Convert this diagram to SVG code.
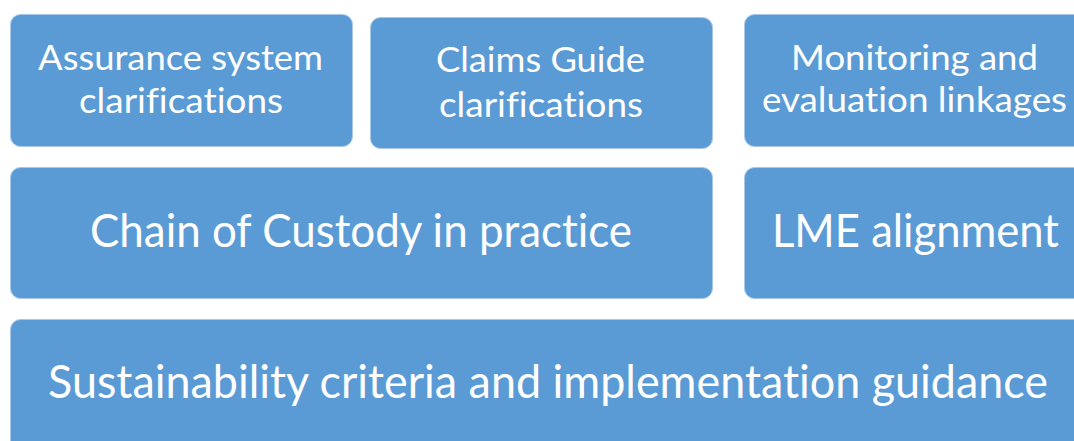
<svg xmlns="http://www.w3.org/2000/svg" width="1074" height="441" viewBox="0 0 1074 441">
<style>
.box{fill:#5B9BD5;stroke:#A9C8E8;stroke-width:1}
.t{fill:#FFFFFF;font-family:Lato,"Open Sans","Liberation Sans",sans-serif;text-anchor:middle;font-variant-ligatures:none;font-feature-settings:"liga" 0}
.s{font-size:34px}
.l{font-size:46px}
</style>
<rect width="1074" height="441" fill="#FFFFFF"/>
<g id="assurance">
<rect class="box" x="10.5" y="14.5" width="342" height="132" rx="10"/>
<text class="t s" x="180.5" y="70" textLength="285" lengthAdjust="spacingAndGlyphs">Assurance system</text>
<text class="t s" x="181" y="113" textLength="204" lengthAdjust="spacingAndGlyphs">clarifications</text>
</g>
<g id="claims">
<rect class="box" x="370.5" y="17.5" width="342" height="131" rx="10"/>
<text class="t s" x="540.5" y="72" textLength="209" lengthAdjust="spacingAndGlyphs">Claims Guide</text>
<text class="t s" x="541" y="117" textLength="204" lengthAdjust="spacingAndGlyphs">clarifications</text>
</g>
<g id="monitoring">
<rect class="box" x="744.5" y="14.5" width="345" height="132" rx="10"/>
<text class="t s" x="914.5" y="70" textLength="247" lengthAdjust="spacingAndGlyphs">Monitoring and</text>
<text class="t s" x="914.5" y="112" textLength="305" lengthAdjust="spacingAndGlyphs">evaluation linkages</text>
</g>
<g id="chain">
<rect class="box" x="10.5" y="167.5" width="702" height="131" rx="10"/>
<text class="t l" x="361" y="247" textLength="542" lengthAdjust="spacingAndGlyphs">Chain of Custody in practice</text>
</g>
<g id="lme">
<rect class="box" x="744.5" y="167.5" width="345" height="131" rx="10"/>
<text class="t l" x="915.5" y="247" textLength="287" lengthAdjust="spacingAndGlyphs">LME alignment</text>
</g>
<g id="sustainability">
<rect class="box" x="10.5" y="319.5" width="1080" height="140" rx="10"/>
<text class="t l" x="548" y="398" textLength="1000" lengthAdjust="spacingAndGlyphs">Sustainability criteria and implementation guidance</text>
</g>
<g id="connectors"></g>
</svg>
